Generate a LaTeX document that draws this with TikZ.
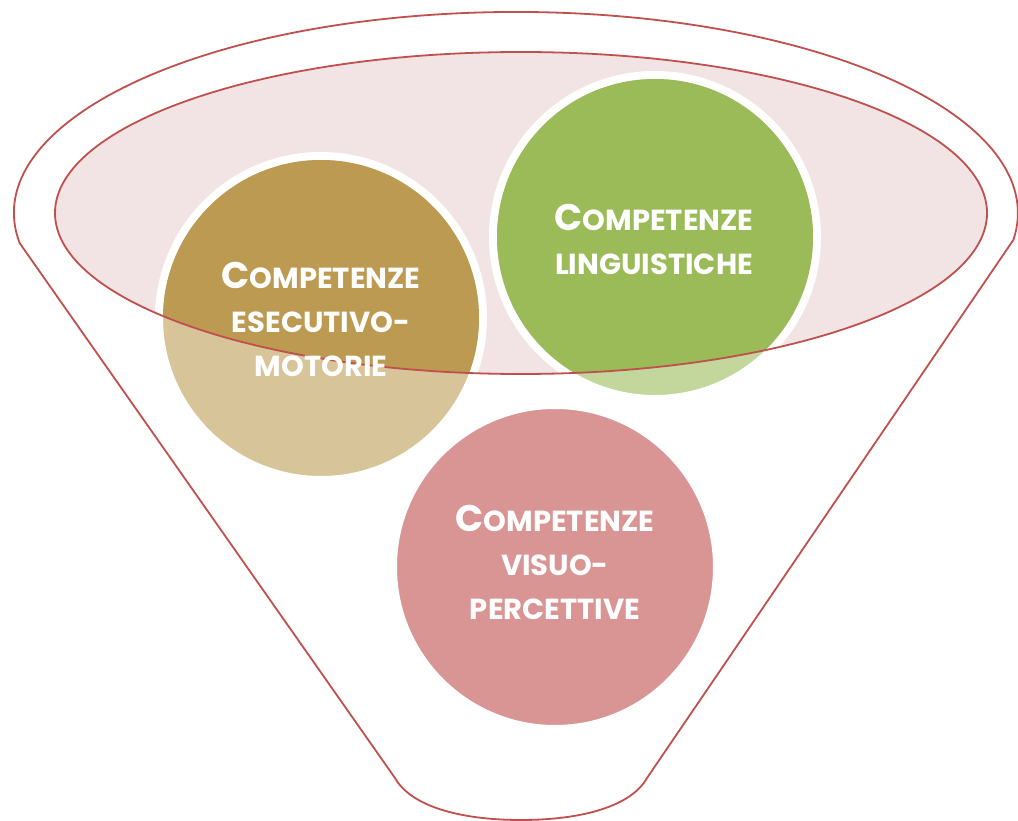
\documentclass[tikz,border=0pt]{standalone}
\usepackage{fontspec}
\setmainfont{Poppins}
\usetikzlibrary{shadows}
\definecolor{funnelline}{HTML}{C0504D}
\definecolor{funnelfill}{HTML}{F2E4E4}
\definecolor{brownfull}{HTML}{BD9A51}
\definecolor{brownlight}{HTML}{D8C499}
\definecolor{greenfull}{HTML}{9BBB59}
\definecolor{greenlight}{HTML}{C3D69B}
\definecolor{pinkfull}{HTML}{D99594}
\newcommand{\bigC}[1]{{\fontsize{37}{44}\selectfont #1}}
\tikzset{
  comp/.style={circle, draw=white, line width=8pt, minimum size=324pt, inner sep=0pt,
    drop shadow={shadow xshift=1pt, shadow yshift=-3pt, opacity=.25}},
  complabel/.style={text=white, align=center, font=\fontsize{29}{44}\selectfont\bfseries},
  funnel/.style={draw=funnelline, line width=1.8pt, line join=round}
}
\begin{document}
  \begin{tikzpicture}[x=1pt, y=-1pt]
    \useasboundingbox (0,0) rectangle (1018,821);
    \fill[funnelfill] (521,213) ellipse [x radius=466pt, y radius=161pt];
    \node[comp, fill=brownlight] (motorie) at (321,318) {};
    \node[comp, fill=greenlight] (linguistiche) at (655,237) {};
    \node[comp, fill=pinkfull] (percettive) at (555,567) {};
    \begin{scope}
      \clip (521,213) ellipse [x radius=466pt, y radius=161pt];
      \fill[brownfull] (motorie.center) circle (158pt);
      \fill[greenfull] (linguistiche.center) circle (158pt);
    \end{scope}
    \draw[funnel] (521,213) ellipse [x radius=466pt, y radius=161pt];
    \draw[funnel] (19.6,243) arc [start angle=188.6, end angle=-7.7, x radius=502pt, y radius=201pt]
      -- (647,778) .. controls (632,805) and (585,820) .. (521,820)
      .. controls (457,820) and (410,805) .. (395,778) -- cycle;
    \node[complabel] (motorie-t) at (321,319) {\bigC{C}OMPETENZE\\ESECUTIVO-\\MOTORIE};
    \node[complabel] (linguistiche-t) at (654,239) {\bigC{C}OMPETENZE\\LINGUISTICHE};
    \node[complabel] (percettive-t) at (555,562) {\bigC{C}OMPETENZE\\VISUO-\\PERCETTIVE};
  \end{tikzpicture}
\end{document}
